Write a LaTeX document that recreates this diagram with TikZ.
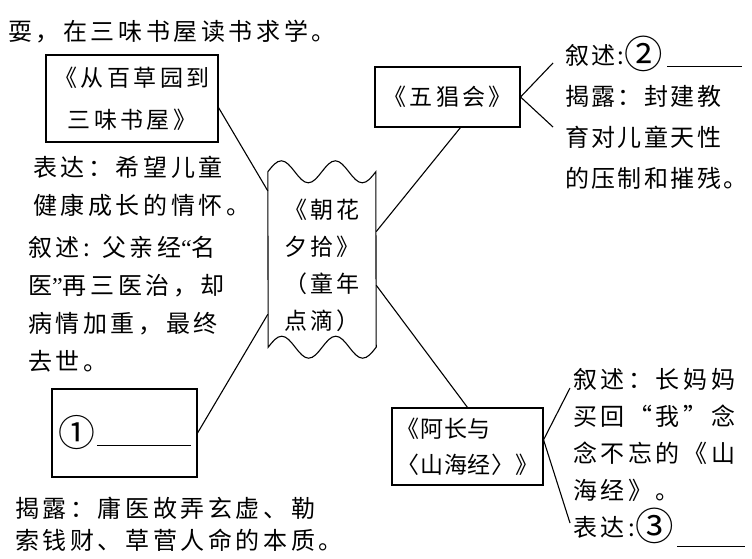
\documentclass[tikz,border=0pt]{standalone}
\usepackage{graphicx}
\usepackage{fontspec}
\newfontfamily\cjk[LetterSpace=15]{Noto Sans CJK SC}
\newfontfamily\lat{Liberation Serif}
\newcommand\circnum[1]{\raisebox{-4pt}{\scalebox{1.6}{#1}}}
\newcommand\blankline[2]{\raisebox{#1}[0pt][0pt]{\rule{#2}{1pt}}}
\begin{document}
\begin{tikzpicture}[
  x=1pt, y=-1pt,
  box/.style={draw, line width=1.1pt, inner sep=0pt, align=center,
              font=\cjk\fontsize{23}{42}\selectfont},
  note/.style={anchor=west, inner sep=0pt, align=left,
               font=\cjk\fontsize{24}{38}\selectfont},
  link/.style={line width=1.1pt}
]
\useasboundingbox (0,0) rectangle (752,559);

% left column
\node[note] (top) at (8,32) {耍，在三味书屋读书求学。};
\node[box, minimum width=172pt, minimum height=87pt] (cong) at (132,98.5) {《从百草园到\\三味书屋》};
\node[note] (biaoda1) at (33,186) {表达：希望儿童\\健康成长的情怀。};
\node[note] (xushu1) at (28,304) {叙述: 父亲经{\lat“}名\\医{\lat”}再三医治，却\\病情加重，最终\\去世。};
\node[box, minimum width=145pt, minimum height=88pt] (blank1) at (124.5,433)
  {\raisebox{-7pt}{\circnum{①}\hspace{2pt}\blankline{-3pt}{94pt}}};
\node[note, font=\cjk\fontsize{24}{32}\selectfont] (jielu1) at (15,524)
  {揭露：庸医故弄玄虚、勒\\索钱财、草菅人命的本质。};

% centre
\node[inner sep=0pt, minimum width=108pt, minimum height=175pt, align=left,
      font=\cjk\fontsize{23}{37}\selectfont] (zh) at (322,265.5)
  {《朝花\\夕拾》\\（童年\\点滴）};
\draw[link] ([yshift=6pt]zh.north west)
  sin ++(13.5,-11) cos ++(13.5,11) sin ++(13.5,11) cos ++(13.5,-11)
  sin ++(13.5,-11) cos ++(13.5,11) sin ++(13.5,11) cos ++(13.5,-11)
  -- ([yshift=6pt]zh.south east)
  sin ++(-13.5,11) cos ++(-13.5,-11) sin ++(-13.5,-11) cos ++(-13.5,11)
  sin ++(-13.5,11) cos ++(-13.5,-11) sin ++(-13.5,-11) cos ++(-13.5,11)
  -- cycle;

% right column
\node[box, minimum width=145pt, minimum height=60pt] (wuchang) at (447.5,97) {《五猖会》};
\node[note, font=\cjk\fontsize{24}{41}\selectfont\addfontfeatures{LetterSpace=10}] (xushu2) at (565,113)
  {叙述:\circnum{②}\hspace{4pt}\blankline{-2pt}{75pt}\\揭露：封建教\\育对儿童天性\\的压制和摧残。};
\node[box, minimum width=151pt, minimum height=77pt, align=left,
      font=\cjk\fontsize{23}{36}\selectfont\addfontfeatures{LetterSpace=3}] (achang) at (467.5,446.5)
  {《阿长与\\〈山海经〉》};
\node[note, font=\cjk\fontsize{24}{37}\selectfont] (xushu3) at (573,456)
  {叙述：长妈妈\\买回“我”念\\念不忘的《山\\海经》。\\表达:\circnum{③}\hspace{4pt}\blankline{-11pt}{68pt}};

\coordinate (w1) at (553,63);
\coordinate (w2) at (553,127);
\coordinate (a1) at (570,388);
\coordinate (a2) at (570,523);

\draw[link] (cong.-6) -- (zh.126);
\draw[link] (blank1.east) -- (zh.222);
\draw[link] (wuchang.-67) -- (zh.32);
\draw[link] (zh.-20) -- (achang.north);
\draw[link] (wuchang.east) -- (w1);
\draw[link] (wuchang.east) -- (w2);
\draw[link] (achang.5) -- (a1);
\draw[link] (achang.5) -- (a2);
\end{tikzpicture}
\end{document}
